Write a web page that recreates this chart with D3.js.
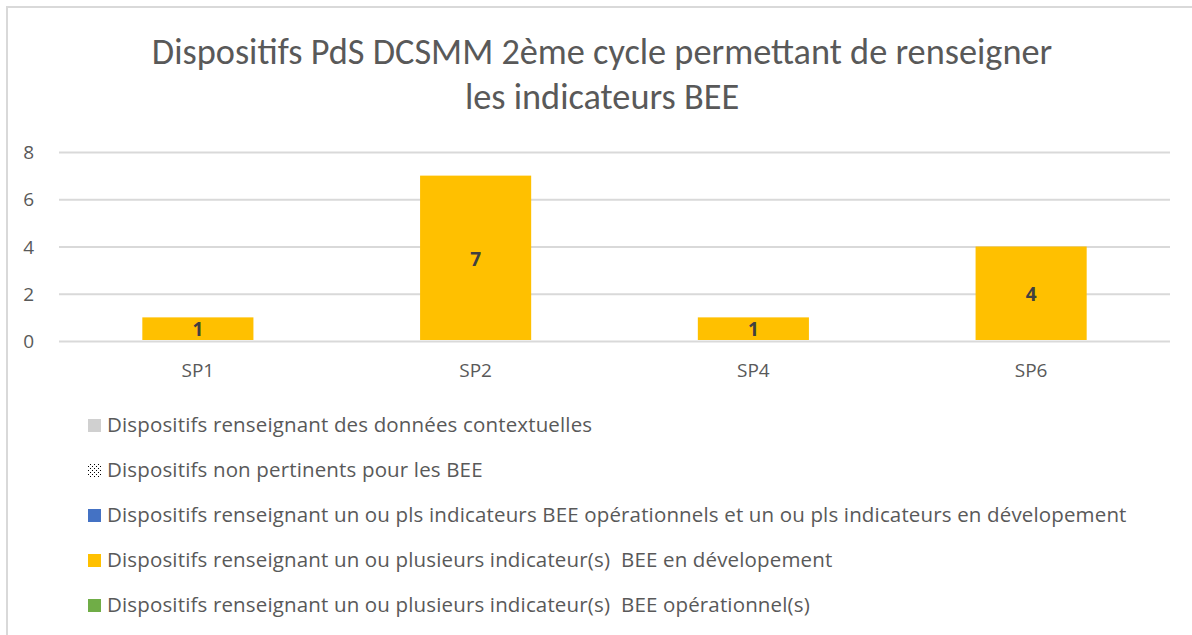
<!DOCTYPE html>
<html lang="fr">
<head>
<meta charset="utf-8">
<title>Dispositifs PdS DCSMM</title>
<script src="https://d3js.org/d3.v7.min.js"></script>
<style>
  body { margin: 0; background: #fff; }
  svg text { font-family: "Open Sans", sans-serif; white-space: pre; }
  .title { font-family: Carlito, Calibri, sans-serif; }
  .grid line { stroke: #d9d9d9; stroke-width: 2px; }
  .grid path { display: none; }
  .axis path, .axis line { display: none; }
  .axis text { fill: #595959; font-size: 19px; font-family: "Open Sans", sans-serif; }
</style>
</head>
<body>
<svg id="chart" width="1192" height="635"></svg>
<script>
// data
var categories = ["SP1", "SP2", "SP4", "SP6"];
var seriesNames = [
  "Dispositifs renseignant des données contextuelles",
  "Dispositifs non pertinents pour les BEE",
  "Dispositifs renseignant un ou pls indicateurs BEE opérationnels et un ou pls indicateurs en dévelopement",
  "Dispositifs renseignant un ou plusieurs indicateur(s)  BEE en dévelopement",
  "Dispositifs renseignant un ou plusieurs indicateur(s)  BEE opérationnel(s)"
];
var seriesColors = ["#d0d0d0", "pattern", "#4472c4", "#ffc000", "#70ad47"];
var devValues = [1, 7, 1, 4];   // en dévelopement
var yTicks = [0, 2, 4, 6, 8];
var titleLines = ["Dispositifs PdS DCSMM 2ème cycle permettant de renseigner", "les indicateurs BEE"];

var svg = d3.select("#chart");

// frame
svg.append("path")
  .attr("d", "M7,635 V7 H1192")
  .attr("fill", "none")
  .attr("stroke", "#d9d9d9")
  .attr("stroke-width", 2);

// dotted pattern for legend
var defs = svg.append("defs");
var pat = defs.append("pattern")
  .attr("id", "dots")
  .attr("width", 4).attr("height", 4)
  .attr("patternUnits", "userSpaceOnUse");
pat.append("rect").attr("width", 1).attr("height", 1).attr("fill", "#000");
pat.append("rect").attr("x", 2).attr("y", 2).attr("width", 1).attr("height", 1).attr("fill", "#000");

// title
svg.append("text")
  .attr("class", "title")
  .attr("x", 602).attr("y", 64)
  .attr("text-anchor", "middle")
  .attr("fill", "#595959")
  .style("font-size", "36.3px")
  .selectAll("tspan")
  .data(titleLines)
  .enter().append("tspan")
  .attr("x", 602)
  .attr("dy", function(d, i) { return i ? 45 : 0; })
  .text(function(d) { return d; });

var plotLeft = 59, plotRight = 1170, plotTop = 152, plotBottom = 341;

var x = d3.scaleBand().domain(categories).range([plotLeft, plotRight]).paddingInner(0.6).paddingOuter(0.3);
var y = d3.scaleLinear().domain([0, 8]).range([plotBottom, plotTop]);

svg.append("g")
  .attr("class", "grid")
  .attr("transform", "translate(" + plotLeft + ",0)")
  .call(d3.axisLeft(y).tickValues(yTicks).tickSize(-(plotRight - plotLeft)).tickFormat(""));

svg.append("g")
  .attr("class", "axis")
  .attr("transform", "translate(" + (plotLeft - 22) + ",0)")
  .call(d3.axisLeft(y).tickValues(yTicks).tickSize(0))
  .selectAll("text").attr("dy", "0.35em");

svg.append("g")
  .attr("class", "axis")
  .attr("transform", "translate(0," + (plotBottom + 19) + ")")
  .call(d3.axisBottom(x).tickSize(0))
  .selectAll("text").attr("dy", "0.75em");

var bars = svg.append("g").selectAll("g")
  .data(categories)
  .enter().append("g");

bars.append("rect")
  .attr("x", function(d) { return x(d); })
  .attr("y", function(d, i) { return y(devValues[i]); })
  .attr("width", x.bandwidth())
  .attr("height", function(d, i) { return y(0) - y(devValues[i]) - 1; })
  .attr("fill", "#ffc000");

bars.append("text")
  .attr("x", function(d) { return x(d) + x.bandwidth() / 2; })
  .attr("y", function(d, i) { return (y(devValues[i]) + y(0)) / 2; })
  .attr("dy", "0.38em")
  .attr("text-anchor", "middle")
  .attr("fill", "#404040")
  .style("font-size", "19px")
  .style("font-weight", "bold")
  .text(function(d, i) { return devValues[i]; });

// legend
var legend = svg.append("g").selectAll("g")
  .data(seriesNames)
  .enter().append("g")
  .attr("transform", function(d, i) { return "translate(88," + (425 + i * 45) + ")"; });

legend.append("rect")
  .attr("x", 0).attr("y", -6)
  .attr("width", 13).attr("height", 13)
  .attr("fill", function(d, i) { return seriesColors[i] === "pattern" ? "url(#dots)" : seriesColors[i]; });

legend.append("text")
  .attr("x", 19)
  .attr("dy", "0.35em")
  .attr("fill", "#595959")
  .style("font-size", "20.5px")
  .style("letter-spacing", "0.15px")
  .text(function(d) { return d; });
</script>
</body>
</html>
